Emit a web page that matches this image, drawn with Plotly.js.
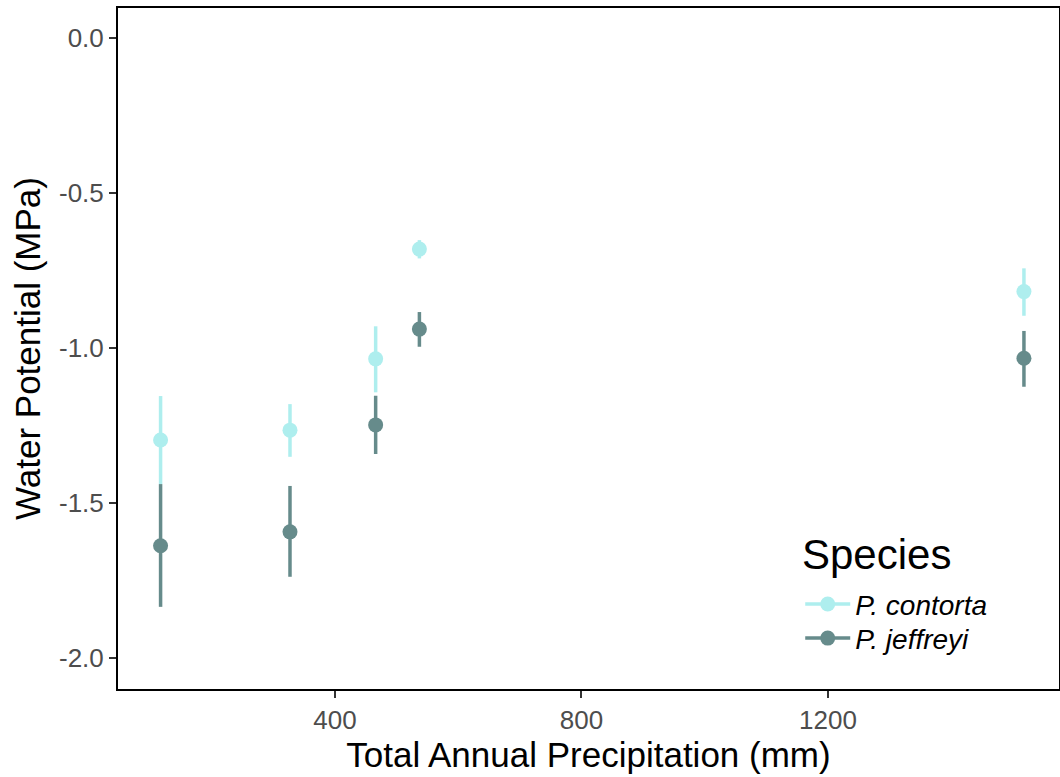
<!DOCTYPE html>
<html>
<head>
<meta charset="utf-8">
<script src="https://cdn.plot.ly/plotly-3.0.1.min.js"></script>
<style>html,body{margin:0;padding:0;background:#fff;}#chart{width:1060px;height:777px;}</style>
</head>
<body>
<div id="chart"></div>
<script>
// Data
const precip = [117, 327, 466, 537, 1518];
const contortaMean = [-1.297, -1.265, -1.035, -0.681, -0.818];
const contortaUpper = [-1.155, -1.181, -0.930, -0.652, -0.743];
const contortaLower = [-1.439, -1.351, -1.143, -0.711, -0.896];
const jeffreyiMean = [-1.638, -1.593, -1.248, -0.939, -1.033];
const jeffreyiUpper = [-1.439, -1.445, -1.154, -0.884, -0.945];
const jeffreyiLower = [-1.835, -1.738, -1.342, -0.996, -1.125];
const speciesNames = ['P. contorta', 'P. jeffreyi'];
const speciesColors = ['#AEEEEE', '#668B8B'];
const legendTitle = 'Species';

function series(mean, upper, lower, color) {
  return {
    x: precip, y: mean, type: 'scatter', mode: 'markers', showlegend: false,
    marker: {color: color, size: 15},
    error_y: {type: 'data', symmetric: false,
      array: upper.map((u, i) => u - mean[i]),
      arrayminus: mean.map((m, i) => m - lower[i]),
      color: color, thickness: 3.5, width: 0}
  };
}
function legendTrace(name, color, legendId) {
  return {x: [null], y: [null], type: 'scatter', mode: 'lines+markers',
    name: '<i>' + name + '</i>', line: {color: color, width: 3.5},
    marker: {color: color, size: 15}, legend: legendId};
}

const data = [
  series(contortaMean, contortaUpper, contortaLower, speciesColors[0]),
  series(jeffreyiMean, jeffreyiUpper, jeffreyiLower, speciesColors[1]),
  legendTrace(speciesNames[0], speciesColors[0], 'legend'),
  legendTrace(speciesNames[1], speciesColors[1], 'legend2')
];

const legendBase = {
  x: 0.725, xanchor: 'left', yanchor: 'top',
  bgcolor: 'rgba(0,0,0,0)',
  font: {size: 28, color: '#000'},
  itemwidth: 45
};

const layout = {
  width: 1060, height: 777,
  margin: {l: 118, r: 1, t: 8, b: 88},
  paper_bgcolor: '#fff', plot_bgcolor: '#fff',
  font: {family: 'Liberation Sans, Arial, sans-serif', color: '#000'},
  xaxis: {
    range: [47.9, 1574.9], tickvals: [400, 800, 1200], ticktext: ['400', '800', '1200'],
    showgrid: false, zeroline: false, showline: true, mirror: true, linecolor: '#000', linewidth: 2,
    ticks: 'outside', ticklen: 7, tickwidth: 2, tickcolor: '#333',
    tickfont: {size: 26, color: '#4D4D4D'},
    title: {text: 'Total Annual Precipitation (mm)', font: {size: 35, color: '#000'}, standoff: 4}
  },
  yaxis: {
    range: [-2.1, 0.0968], tickvals: [0, -0.5, -1, -1.5, -2], ticktext: ['0.0', '-0.5', '-1.0', '-1.5', '-2.0'],
    showgrid: false, zeroline: false, showline: true, mirror: true, linecolor: '#000', linewidth: 2,
    ticks: 'outside', ticklen: 7, tickwidth: 2, tickcolor: '#333',
    tickfont: {size: 26, color: '#4D4D4D'},
    title: {text: 'Water Potential (MPa)', font: {size: 35, color: '#000'}, standoff: 8}
  },
  legend: Object.assign({}, legendBase, {y: 0.161}),
  legend2: Object.assign({}, legendBase, {y: 0.111}),
  annotations: [{
    text: legendTitle, xref: 'paper', yref: 'paper', x: 0.7245, y: 0.197,
    xanchor: 'left', yanchor: 'middle', showarrow: false,
    font: {size: 42, color: '#000'}
  }],
  showlegend: true
};

Plotly.newPlot('chart', data, layout, {displayModeBar: false, staticPlot: true});
</script>
</body>
</html>
